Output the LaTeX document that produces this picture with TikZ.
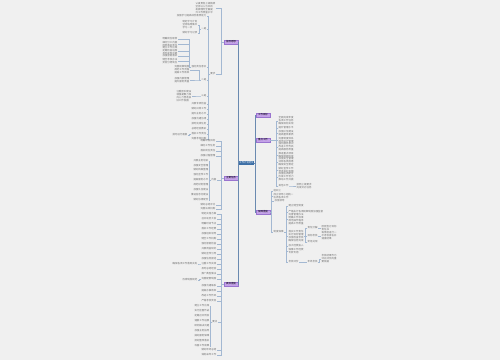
\documentclass[tikz,border=0pt]{standalone}
\usepackage{fontspec}
\newfontfamily\cjk{Noto Sans CJK SC}
\usetikzlibrary{positioning}
\definecolor{bgcol}{HTML}{F0F0F0}
\definecolor{rootcol}{HTML}{3D6FA6}
\definecolor{topiccol}{HTML}{C4A2E8}
\definecolor{topicline}{HTML}{9A74CF}
\definecolor{trunkcol}{HTML}{6A8AB0}
\definecolor{linkcol}{HTML}{A3B8D2}
\definecolor{txtcol}{HTML}{6E6E6E}

\begin{document}
\begin{tikzpicture}[x=0.03cm,y=-0.03cm,
  root/.style={fill=rootcol,text=white,font=\cjk\fontsize{2}{2.4}\selectfont,inner xsep=0.5pt,inner ysep=0.8pt},
  topic/.style={fill=topiccol,draw=topicline,line width=0.2pt,font=\cjk\fontsize{2.1}{2.5}\selectfont,
    inner xsep=1pt,inner ysep=0.5pt,minimum width=0.42cm},
  leaf/.style={font=\cjk\fontsize{2.1}{2.6}\selectfont,text=txtcol,inner sep=0.4pt,align=left},
  lleaf/.style={leaf,anchor=east},
  rleaf/.style={leaf,anchor=west},
  trunk/.style={draw=trunkcol,line width=0.5pt},
  link/.style={draw=linkcol,line width=0.3pt}]
\fill[bgcol] (0,0) rectangle (500,360);
\useasboundingbox (0,0) rectangle (500,360);
% root and main topics
\node[root] (root) at (246.5,163) {工作计划范文};
\node[topic] (l1) at (231,42) {指导思想};
\node[topic] (l2) at (231,178) {主要任务};
\node[topic] (l3) at (231,284) {具体措施};
\node[topic] (r1) at (263,115) {工作目标};
\node[topic] (r2) at (263,140) {重点工作};
\node[topic] (r3) at (263,212) {保障措施};
\foreach \t in {l1,l2,l3} \draw[trunk] (root.west) -- ++(-0.5,0) |- (\t.east);
\foreach \t in {r1,r2,r3} \draw[trunk] (root.east) -- ++(0.5,0) |- (\t.west);
% left upper branch
\node[lleaf] (a1) at (216,8) {认真贯彻上级精神\\坚持以人为本的\\发展理念全面提\\升工作质量水平};
\node[lleaf] (a2) at (216,74) {要求};
\foreach \n in {a1,a2} \draw[link] (l1.west) -- ++(-3,0) |- (\n.east);
\foreach \n/\y/\t in {b1/16/{加强学习提高综合素质能力},b2/29/{一是},b3/67/{强化责任意识},
  b4/80/{二是},b5/96/{三是},b6/104/{开展专项检查},b7/109/{做好日常工作},b8/114/{提升业务水平},
  b9/119/{加强沟通协调},b10/124/{按时完成任务},b11/129/{总结经验教训},b12/134/{落实工作责任},
  b13/139/{完善考核机制}}
  {\node[lleaf] (\n) at (207,\y) {\t}; \draw[link] (a2.west) -- ++(-1.5,0) |- (\n.east);}
\node[lleaf] (c1) at (198,25) {制定学习计划\\坚持每周集中\\学习一次};
\node[lleaf] (c2) at (198,33) {做好学习记录};
\foreach \n in {c1,c2} \draw[link] (b2.west) -- ++(-1.5,0) |- (\n.east);
\foreach \n/\y/\t in {c3/39/{明确岗位职责},c4/44/{细化分工内容\\层层落实责任},c5/51/{建立工作台账\\定期检查进度\\及时发现问题},
  c6/56/{加强督促落实},c7/61/{健全考核办法\\奖惩分明到位}}
  {\node[lleaf] (\n) at (178,\y) {\t}; \draw[link] (b3.west) -- ++(-1.5,0) |- (\n.east);}
\node[lleaf] (c8) at (190,70) {完善规章制度\\规范工作流程\\提高工作效率};
\node[lleaf] (c9) at (190,80) {加强内部管理\\提升服务质量};
\foreach \n in {c8,c9} \draw[link] (b4.west) -- ++(-1.5,0) |- (\n.east);
\node[lleaf] (c10) at (192,96) {注重团队建设\\增强凝聚力和\\向心力营造良\\好工作氛围};
\draw[link] (b5.west) -- ++(-1.5,0) |- (c10.east);
\node[lleaf] (c11) at (188,135) {按月进行通报};
\draw[link] (b12.west) -- ++(-1.5,0) |- (c11.east);
% left middle branch
\foreach \n/\y/\t in {d1/141/{明确年度目标},d2/146/{细化工作任务},d3/151/{落实岗位责任},d4/156/{加强过程管理},
  d6/205/{做好总结评比},d7/209/{完善长效机制}}
  {\node[lleaf] (\n) at (216,\y) {\t}; \draw[link] (l2.west) -- ++(-3,0) |- (\n.east);}
\node[lleaf] (d5) at (217,180) {内容};
\draw[link] (l2.west) -- ++(-3,0) |- (d5.east);
\foreach \n/\y/\t in {e1/161/{开展业务培训},e2/166/{加强安全管理},e3/170/{做好档案整理},e4/175/{强化宣传工作},
  e5/180/{提高服务水平},e6/185/{规范财务管理},e7/190/{加强队伍建设},e8/195/{推进信息化建设},e9/200/{做好协调配合}}
  {\node[lleaf] (\n) at (209,\y) {\t}; \draw[link] (d5.west) -- ++(-1,0) |- (\n.east);}
% left lower branch
\foreach \n/\y/\t in {f1/214/{制定实施方案},f2/219/{召开动员大会},f3/224/{明确时间节点},f4/229/{落实工作经费},
  f5/234/{加强组织领导},f6/239/{健全工作机制},f7/244/{强化督促检查},f8/249/{开展调查研究},f9/254/{做好宣传引导},
  f10/259/{加强信息报送},f11/264/{注重工作实效},f12/269/{及时总结经验},f13/274/{推广典型做法},f14/279/{完善配套制度},
  f15/286/{加强沟通联系},f16/291/{提高办事效率},f17/296/{改进工作作风},f18/301/{严格考核奖惩},
  f19/350/{做好年终总结},f20/355/{谋划来年工作}}
  {\node[lleaf] (\n) at (217,\y) {\t}; \draw[link] (l3.west) -- ++(-3,0) |- (\n.east);}
\node[lleaf] (g) at (218,322) {要点};
\draw[link] (l3.west) -- ++(-3,0) |- (g.east);
\foreach \n/\y/\t in {h1/306/{建立工作台账},h2/311/{实行挂图作战},h3/316/{定期召开例会},h4/321/{通报工作进展},
  h5/326/{研究解决问题},h6/331/{加强业务指导},h7/336/{搞好服务保障},h8/341/{抓好整改落实},h9/346/{巩固工作成果}}
  {\node[lleaf] (\n) at (210,\y) {\t}; \draw[link] (g.west) -- ++(-1,0) |- (\n.east);}
\node[lleaf] (x1) at (198,264) {确保各项工作落到实处};
\draw[link] (f11.west) -- ++(-1.5,0) |- (x1.east);
\node[lleaf] (x2) at (198,280) {形成制度规范};
\draw[link] (f14.west) -- ++(-1.5,0) |- (x2.east);
% right middle branch
\foreach \n/\y/\t in {s1/121/{全面完成年度\\各项工作任务\\确保目标实现},s2/128/{提升管理水平},s3/133/{加强队伍建设\\提高整体素质},
  s4/140/{完善制度体系\\规范运行管理},s5/147/{强化服务意识\\改进工作作风\\提高服务质量},s6/155/{推进重点项目\\确保按期完成},
  s7/162/{加强安全管理\\消除各类隐患\\确保安全稳定},s8/170/{做好宣传工作\\营造良好氛围},
  s9/177/{加强协调配合\\形成工作合力\\推动工作开展},s10/186/{其他工作}}
  {\node[rleaf] (\n) at (278,\y) {\t}; \draw[link] (r2.east) -- ++(6,0) |- (\n.west);}
\node[rleaf] (s11) at (296,186) {按照上级要求\\完成交办任务};
\draw[link] (s10.east) -- ++(1.5,0) |- (s11.west);
% right lower branch
\node[rleaf] (p1) at (273,191) {组织上};
\node[rleaf] (p2) at (273,196) {成立领导小组统一\\协调各项工作};
\node[rleaf] (p3) at (274,201) {加强领导};
\node[rleaf] (p4) at (273,232) {制度保障};
\foreach \n in {p1,p2,p3,p4} \draw[link] (r3.east) -- ++(1.5,0) |- (\n.west);
\foreach \n/\y/\t in {t1/206/{建立健全制度},t2/212/{严格执行各项规章制度加强监督},t3/219/{完善管理办法\\明确工作标准\\规范操作程序\\提高工作质量},
  t4/236/{落实工作责任\\实行目标管理\\加强检查考核\\确保任务完成},t5/246/{加大经费投入},t6/251/{保障工作经费\\专款专用},
  t7/262/{考核评价}}
  {\node[rleaf] (\n) at (288,\y) {\t}; \draw[link] (p4.east) -- ++(2,0) |- (\n.west);}
\node[rleaf] (u1) at (307,228) {责任分解};
\node[rleaf] (u2) at (307,236) {目标考核};
\node[rleaf] (u3) at (307,242) {奖惩兑现};
\foreach \n in {u1,u2,u3} \draw[link] (t4.east) -- ++(1,0) |- (\n.west);
\node[rleaf] (v1) at (321,228) {层层签订目标\\责任书};
\node[rleaf] (v2) at (321,236) {每季度进行一\\次考核排名并\\通报结果};
\draw[link] (u1.east) -- (v1.west);
\draw[link] (u2.east) -- (v2.west);
\node[rleaf] (w1) at (307,262) {年终考核};
\node[rleaf] (w2) at (321,259) {考核结果作为\\评先评优的重\\要依据};
\draw[link] (t7.east) -- (w1.west);
\draw[link] (w1.east) -- ++(1,0) |- (w2.west);
\end{tikzpicture}
\end{document}
